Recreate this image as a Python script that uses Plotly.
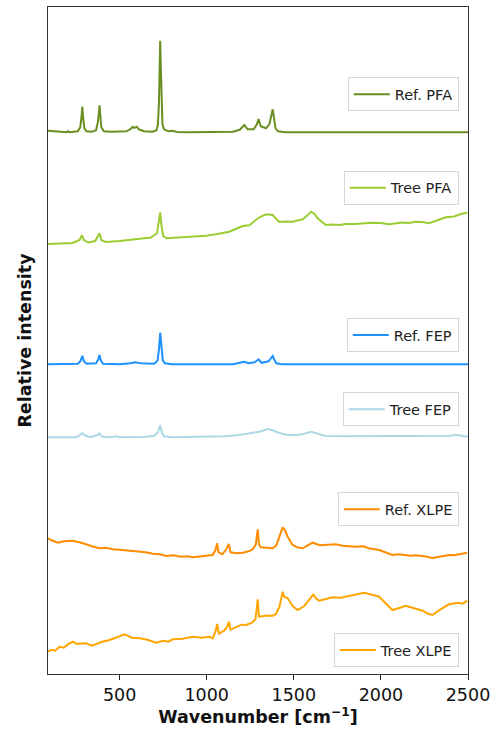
import plotly.graph_objects as go

# ---------------- data ----------------
names = ["Ref. PFA", "Tree PFA", "Ref. FEP", "Tree FEP", "Ref. XLPE", "Tree XLPE"]
colors = ["#6b8e23", "#9acd32", "#1e90ff", "#add8e6", "#ff8c00", "#ffa500"]
offsets = [541.7, 430.0, 309.7, 236.7, 135.7, 22.3]

ref_pfa_wn = [89, 150, 195, 204, 213, 260, 274, 281, 286, 291, 298, 310, 340, 365, 375, 381, 385, 389, 395,
              410, 450, 540, 565, 576, 585, 599, 610, 640, 690, 712, 720, 726, 730, 733, 736, 740, 746, 755,
              780, 804, 830, 900, 1100, 1150, 1190, 1216, 1235, 1270, 1288, 1298, 1310, 1340, 1360, 1372,
              1379, 1386, 1395, 1410, 1450, 2500]
ref_pfa_int = [1.5, 0.5, 0, 1, 0, 1, 5, 15, 25.6, 14, 4, 1, 0.5, 2, 10, 20, 27, 18, 5,
               1, 0.5, 1, 3.5, 5.5, 4.5, 5.6, 3, 1, 0.5, 2, 8, 30, 70, 91.6, 70, 28, 8, 3,
               1, 1.5, 0.3, 0, 0, 0.5, 2.5, 7.3, 3, 3, 8, 13.3, 6, 4, 8, 18,
               23, 15, 4, 1, 0, 0]

tree_pfa_wn = [89, 150, 230, 270, 284, 295, 320, 360, 375, 385, 395, 420, 500, 600, 680, 715, 725, 733, 740,
               750, 770, 900, 997, 1060, 1130, 1180, 1207, 1245, 1280, 1302, 1341, 1379, 1400, 1417, 1450,
               1493, 1520, 1551, 1580, 1599, 1620, 1637, 1684, 1720, 1761, 1800, 1850, 1900, 1952, 2000,
               2047, 2080, 2120, 2160, 2200, 2240, 2276, 2330, 2372, 2420, 2460, 2496]
tree_pfa_int = [0, 0.5, 1, 4, 8.7, 4, 1.5, 3, 7, 10.7, 4, 2, 3, 5, 6.5, 11, 22, 31.7, 19,
                8, 5.7, 7, 8.3, 10, 12.3, 16, 18, 18.7, 24, 26.7, 29.7, 29, 25, 22, 22.5,
                22.3, 23.5, 24.7, 29, 32.3, 30, 25.7, 19, 19.5, 19, 20, 20, 21, 21.3, 21,
                19.7, 20.5, 21.5, 21, 22.3, 22, 20.7, 24, 26.7, 27.5, 30, 31.3]

ref_fep_wn = [89, 260, 275, 286, 295, 310, 365, 378, 385, 392, 405, 500, 560, 590, 620, 700, 718, 726, 733,
              740, 748, 760, 800, 1150, 1195, 1216, 1240, 1275, 1298, 1315, 1355, 1372, 1379, 1387, 1400,
              1430, 2500]
ref_fep_int = [0, 0.5, 3, 8.6, 3, 0.5, 1, 5, 9.3, 4, 0.5, 0, 1, 2, 1, 0.5, 4, 15, 31.6,
               15, 4, 1, 0, 0, 1.5, 2.6, 1, 2, 5, 1.5, 3, 6.5, 8.3, 5, 1,
               0, 0]

tree_fep_wn = [89, 250, 270, 286, 300, 330, 370, 385, 395, 440, 481, 500, 650, 700, 720, 733, 742, 755, 800,
               1000, 1100, 1188, 1250, 1300, 1330, 1350, 1380, 1420, 1460, 1500, 1550, 1600, 1630, 1680,
               1800, 2000, 2200, 2400, 2430, 2460, 2500]
tree_fep_int = [0, 0, 2, 4, 2, 0, 2, 4, 1, 0, 1, 0, 0.5, 1.5, 5, 12, 5, 1, 0,
                0.5, 1, 2.3, 4, 5.6, 7, 8.3, 7, 4, 2.5, 2, 3, 5.6, 4, 1.3,
                1, 1, 1.3, 1.5, 2.6, 1.5, 0.5]

ref_xlpe_wn = [89, 110, 146, 180, 232, 260, 290, 340, 385, 420, 462, 500, 540, 580, 615, 650, 690, 730, 768,
               810, 850, 890, 920, 980, 1035, 1050, 1060, 1068, 1090, 1112, 1127, 1137, 1170, 1207, 1240,
               1264, 1282, 1293, 1300, 1310, 1340, 1379, 1400, 1420, 1436, 1450, 1465, 1493, 1520, 1551,
               1590, 1608, 1650, 1703, 1740, 1780, 1820, 1856, 1900, 1930, 1990, 2030, 2066, 2100, 2130,
               2170, 2200, 2250, 2296, 2350, 2391, 2420, 2450, 2496]
ref_xlpe_int = [0, -2, -4.4, -3, -2.4, -3.5, -5, -8, -10, -9.5, -11, -11.5, -12, -12.5, -13.4, -14, -15.5,
                -16, -17.7, -17, -18.5, -18, -19, -18, -16.7, -12, -5, -14, -16, -11, -5.7, -14, -15,
                -14.4, -13, -11, -6, 9, -6, -9, -9.5, -10, -7, 2, 11, 8, 1.6, -6.7, -9, -10,
                -6, -4.4, -7, -6.7, -6, -7.5, -8, -8.4, -8, -10, -11.7, -14, -16.7, -16, -16.5,
                -17.5, -17, -18, -19.7, -18, -16.7, -17, -16, -14.4]

tree_xlpe_wn = [89, 110, 130, 156, 180, 200, 232, 250, 270, 309, 340, 366, 400, 443, 490, 529, 570, 615, 660,
                710, 750, 780, 805, 860, 920, 970, 1016, 1035, 1050, 1060, 1070, 1100, 1118, 1127, 1137,
                1170, 1200, 1226, 1260, 1280, 1293, 1300, 1340, 1380, 1398, 1418, 1436, 1445, 1465, 1493,
                1522, 1560, 1590, 1612, 1630, 1646, 1690, 1722, 1770, 1818, 1860, 1904, 1950, 1990, 2030,
                2066, 2110, 2140, 2162, 2200, 2238, 2270, 2296, 2340, 2391, 2440, 2470, 2496]
tree_xlpe_int = [0, 2, 1, 5, 4, 7, 10, 8, 8, 8.4, 6, 7.7, 10, 11.7, 15, 17.4, 14, 13.4, 12,
                 9, 11, 10, 12.4, 13, 15, 14, 15, 13.4, 20, 27.7, 18, 21, 25, 30, 22,
                 25, 27, 26.7, 29, 32.4, 52.4, 35, 36, 36, 37.7, 45, 60, 55, 53.4, 45.7,
                 41.7, 45.7, 52, 57, 53, 51, 53, 54.4, 54, 55.7, 57, 59, 57, 55, 48,
                 41.7, 44, 46, 45, 43, 41, 38, 36.7, 42, 47.4, 49, 48, 51]

series_wn = [ref_pfa_wn, tree_pfa_wn, ref_fep_wn, tree_fep_wn, ref_xlpe_wn, tree_xlpe_wn]
series_int = [ref_pfa_int, tree_pfa_int, ref_fep_int, tree_fep_int, ref_xlpe_int, tree_xlpe_int]

x_ticks = [500, 1000, 1500, 2000, 2500]
legend_y = [0.869, 0.729, 0.508, 0.397, 0.247, 0.036]

# ---------------- figure ----------------
FONT = "DejaVu Sans"
fig = go.Figure()
legend_keys = ["legend"] + [f"legend{i}" for i in range(2, 7)]
for i, name in enumerate(names):
    fig.add_trace(go.Scatter(
        x=series_wn[i],
        y=[v + offsets[i] for v in series_int[i]],
        mode="lines",
        name=name,
        line=dict(color=colors[i], width=2),
        legend=legend_keys[i],
        showlegend=True,
    ))

layout_legends = {}
for i, key in enumerate(legend_keys):
    layout_legends[key] = dict(
        x=0.978, y=legend_y[i], xanchor="right", yanchor="middle",
        bgcolor="rgba(255,255,255,0.8)", bordercolor="#d6d6d6", borderwidth=1,
        font=dict(family=FONT, size=14.5, color="#222"),
        itemwidth=36, tracegroupgap=0,
    )

fig.update_layout(
    width=496, height=731,
    margin=dict(l=48, r=28, t=7, b=57, autoexpand=False),
    paper_bgcolor="white", plot_bgcolor="white",
    font=dict(family=FONT, color="#111"),
    **layout_legends,
)
fig.update_xaxes(
    range=[89, 2500], tickvals=x_ticks, ticks="outside", ticklen=5, tickwidth=1,
    tickcolor="#222", tickfont=dict(family=FONT, size=17.5, color="#111"),
    showline=True, linecolor="#333", linewidth=1, mirror=True, showgrid=False, zeroline=False,
    title=dict(text="<b>Wavenumber [cm<sup>−1</sup>]</b>", font=dict(family=FONT, size=17.5, color="#111"),
               standoff=6),
)
fig.update_yaxes(
    range=[0, 667], showticklabels=False, ticks="",
    showline=True, linecolor="#333", linewidth=1, mirror=True, showgrid=False, zeroline=False,
    title=dict(text="<b>Relative intensity</b>", font=dict(family=FONT, size=17.5, color="#111"),
               standoff=10),
)

fig.write_html("out.html", config={"displayModeBar": False},
               post_script="document.body.style.margin='0';")
